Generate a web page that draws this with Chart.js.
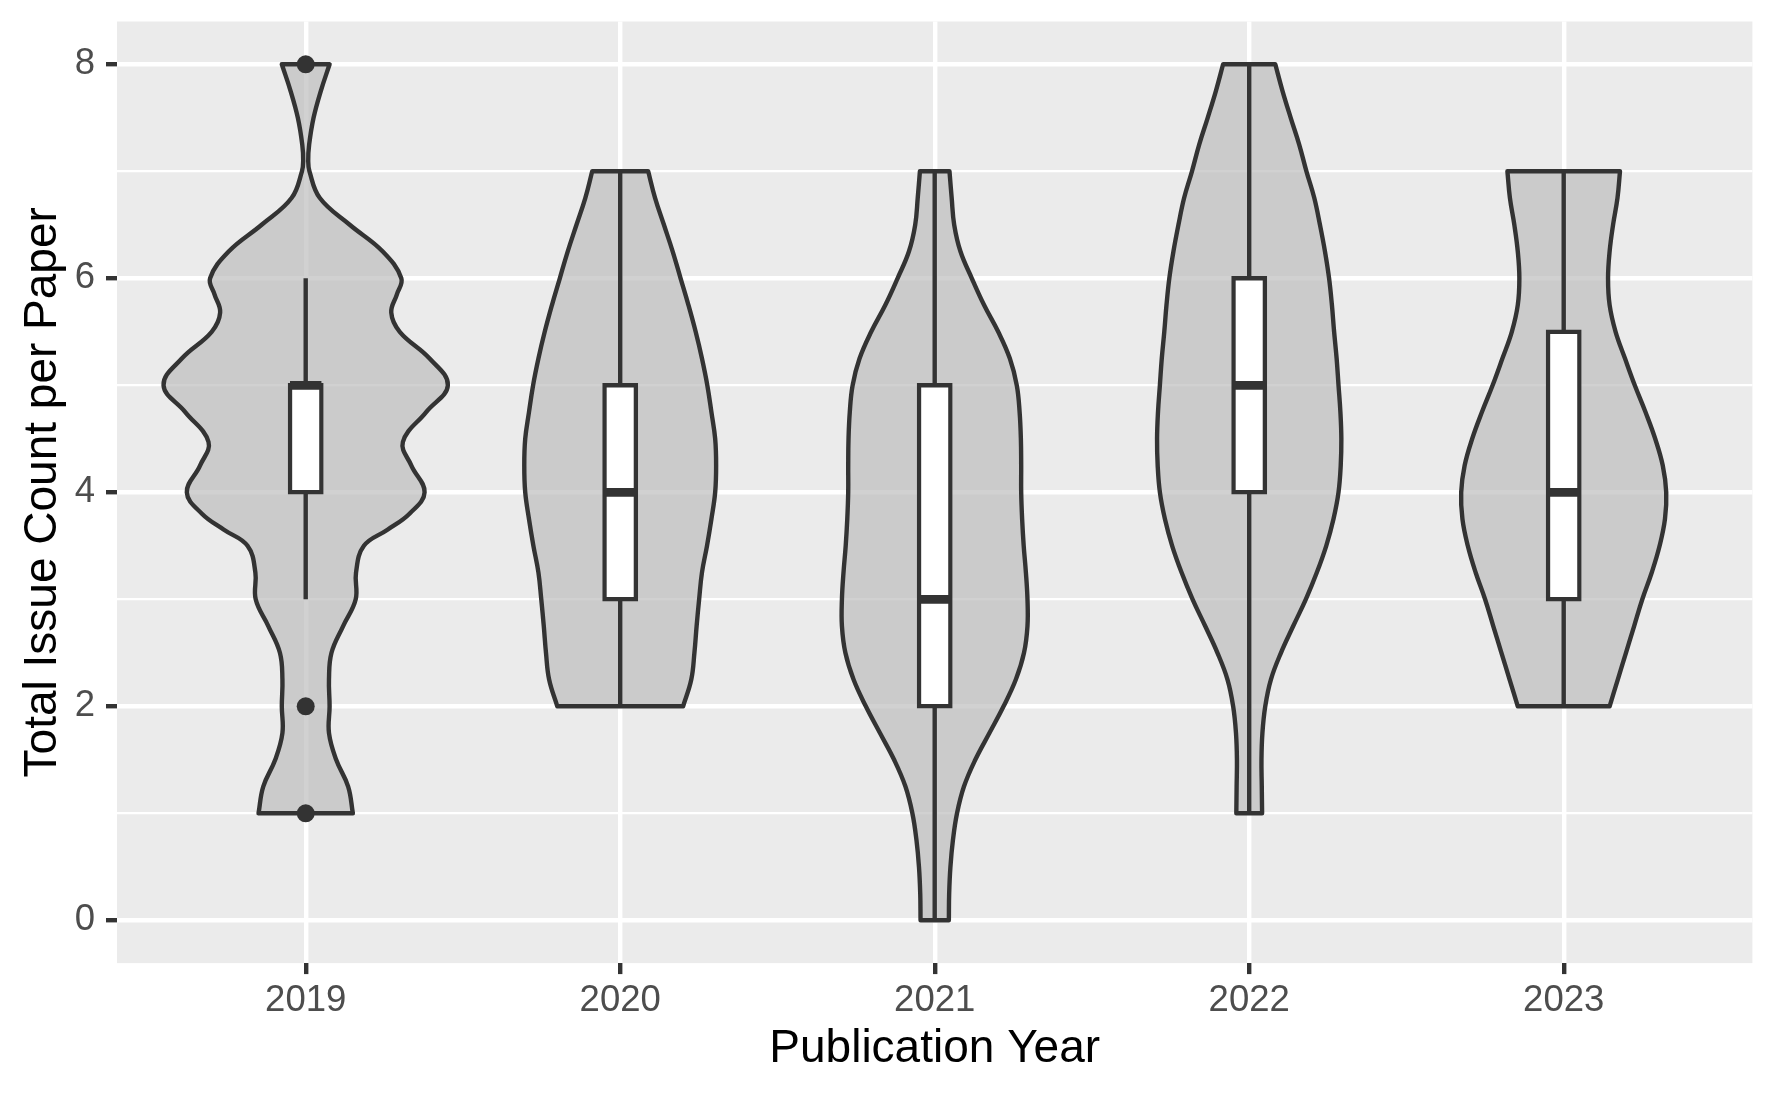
<!DOCTYPE html>
<html>
<head>
<meta charset="utf-8">
<title>Total Issue Count per Paper</title>
<script src="https://cdn.jsdelivr.net/npm/chart.js@4.4.1/dist/chart.umd.min.js"></script>
<style>
    html, body { margin: 0; padding: 0; background: #ffffff; }
    canvas { display: block; }
</style>
</head>
<body>
<canvas id="violinChart" width="1771" height="1095"></canvas>
<script>
// Categories
const years = ["2019", "2020", "2021", "2022", "2023"];

// Box plot statistics per year
const boxQ1 = [4, 3, 2, 4, 3];
const boxMedian = [5, 4, 3, 5, 4];
const boxQ3 = [5, 5, 5, 6, 5.5];
const whiskerLow = [3, 2, 0, 1, 2];
const whiskerHigh = [6, 7, 7, 8, 7];

// Outliers (year index, value)
const outlierYearIndex = [0, 0, 0];
const outlierValues = [8, 2, 1];

// Violin profiles: issue count levels and half-width of the density at each level
const levels2019 = [1, 1.25, 1.5, 1.75, 2, 2.25, 2.5, 2.75, 3, 3.25, 3.5, 3.65, 3.8, 4, 4.25, 4.47,
    4.75, 5, 5.25, 5.5, 5.68, 5.85, 6, 6.25, 6.5, 6.75, 7, 7.1, 7.25, 7.5, 7.75, 8];
const width2019 = [0.150, 0.135, 0.097, 0.074, 0.076, 0.074, 0.082, 0.119, 0.159, 0.160, 0.185, 0.26,
    0.33, 0.378, 0.336, 0.309, 0.383, 0.452, 0.394, 0.299, 0.272, 0.29, 0.304, 0.245, 0.14, 0.045,
    0.012, 0.008, 0.011, 0.025, 0.048, 0.076];

const levels2020 = [2, 2.25, 2.5, 2.75, 3, 3.25, 3.5, 3.75, 4, 4.25, 4.5, 4.75, 5, 5.25, 5.5, 5.75,
    6, 6.25, 6.5, 6.75, 7];
const width2020 = [0.200, 0.226, 0.236, 0.243, 0.251, 0.260, 0.276, 0.290, 0.302, 0.305, 0.302,
    0.290, 0.277, 0.260, 0.240, 0.217, 0.192, 0.167, 0.139, 0.111, 0.089];

const levels2021 = [0, 0.25, 0.5, 0.75, 1, 1.25, 1.5, 1.75, 2, 2.25, 2.5, 2.75, 3, 3.25, 3.5, 3.75,
    4, 4.25, 4.5, 4.75, 5, 5.25, 5.5, 5.75, 6, 6.25, 6.5, 6.75, 7];
const width2021 = [0.045, 0.046, 0.050, 0.058, 0.071, 0.093, 0.129, 0.174, 0.219, 0.258, 0.284,
    0.295, 0.295, 0.290, 0.283, 0.278, 0.275, 0.275, 0.274, 0.270, 0.261, 0.239, 0.202, 0.157,
    0.118, 0.082, 0.062, 0.054, 0.047];

const levels2022 = [1, 1.25, 1.5, 1.75, 2, 2.25, 2.5, 2.75, 3, 3.25, 3.5, 3.75, 4, 4.25, 4.5, 4.75,
    5, 5.25, 5.5, 5.75, 6, 6.25, 6.5, 6.75, 7, 7.25, 7.5, 7.75, 8];
const width2022 = [0.041, 0.040, 0.039, 0.042, 0.051, 0.069, 0.101, 0.140, 0.180, 0.215, 0.245,
    0.268, 0.284, 0.291, 0.293, 0.290, 0.284, 0.278, 0.270, 0.263, 0.254, 0.241, 0.225, 0.207,
    0.182, 0.159, 0.132, 0.106, 0.083];

const levels2023 = [2, 2.25, 2.5, 2.75, 3, 3.25, 3.5, 3.75, 4, 4.25, 4.5, 4.75, 5, 5.25, 5.5, 5.75,
    6, 6.25, 6.5, 6.75, 7];
const width2023 = [0.146, 0.172, 0.198, 0.224, 0.250, 0.280, 0.305, 0.322, 0.326, 0.315, 0.291,
    0.260, 0.226, 0.195, 0.165, 0.146, 0.141, 0.146, 0.157, 0.171, 0.179];

// Axis ticks
const yMajorTicks = [0, 2, 4, 6, 8];
const yMinorTicks = [1, 3, 5, 7];

const violinLevels = [levels2019, levels2020, levels2021, levels2022, levels2023];
const violinWidths = [width2019, width2020, width2021, width2022, width2023];

const FONT = "'Liberation Sans', Arial, Helvetica, sans-serif";
const OUTLINE = "#333333";
const LINE = 4.4;
const BOX_HALF = 0.05;

// Closed outline: up the right side, across the top, down the left side.
// Corner points are doubled so the spline keeps the flat ends straight.
function violinOutline(index, levels, widths) {
    const right = levels.map((y, k) => ({ x: index + widths[k], y: y }));
    const left = levels.map((y, k) => ({ x: index - widths[k], y: y })).reverse();
    return [...right, right[right.length - 1], left[0], ...left, left[left.length - 1], right[0]];
}

const violinDatasets = violinLevels.map((levels, i) => ({
    type: "line",
    label: years[i],
    data: violinOutline(i, levels, violinWidths[i]),
    borderColor: OUTLINE,
    borderWidth: LINE,
    backgroundColor: "rgba(190, 190, 190, 0.7)",
    fill: "shape",
    tension: 0.4,
    pointRadius: 0,
    borderJoinStyle: "round",
    borderCapStyle: "round",
    order: 5,
}));

const whiskerData = [];
const medianData = [];
years.forEach((year, i) => {
    whiskerData.push({ x: i, y: boxQ3[i] }, { x: i, y: whiskerHigh[i] }, { x: i, y: null });
    whiskerData.push({ x: i, y: boxQ1[i] }, { x: i, y: whiskerLow[i] }, { x: i, y: null });
    medianData.push({ x: i - BOX_HALF, y: boxMedian[i] }, { x: i + BOX_HALF, y: boxMedian[i] }, { x: i, y: null });
});

const panelBackground = {
    id: "panelBackground",
    beforeDraw(chart) {
        const { ctx, chartArea } = chart;
        ctx.save();
        ctx.fillStyle = "#EBEBEB";
        ctx.fillRect(chartArea.left, chartArea.top, chartArea.width, chartArea.height);
        ctx.restore();
    },
};

new Chart(document.getElementById("violinChart"), {
    type: "line",
    data: {
        datasets: [
            ...violinDatasets,
            {
                type: "line",
                label: "whiskers",
                data: whiskerData,
                borderColor: OUTLINE,
                borderWidth: LINE,
                pointRadius: 0,
                spanGaps: false,
                fill: false,
                order: 4,
            },
            {
                type: "bar",
                label: "boxes",
                data: years.map((year, i) => ({ x: i, y: [boxQ1[i], boxQ3[i]] })),
                backgroundColor: "#FFFFFF",
                borderColor: OUTLINE,
                borderWidth: LINE,
                borderSkipped: false,
                inflateAmount: LINE / 2,
                categoryPercentage: BOX_HALF * 2,
                barPercentage: 1,
                order: 3,
            },
            {
                type: "line",
                label: "medians",
                data: medianData,
                borderColor: OUTLINE,
                borderWidth: LINE * 2,
                pointRadius: 0,
                spanGaps: false,
                fill: false,
                order: 2,
            },
            {
                type: "line",
                label: "outliers",
                data: outlierValues.map((v, k) => ({ x: outlierYearIndex[k], y: v })),
                showLine: false,
                pointRadius: 9,
                pointBackgroundColor: OUTLINE,
                pointBorderWidth: 0,
                order: 1,
            },
        ],
    },
    options: {
        responsive: false,
        animation: false,
        devicePixelRatio: 1,
        layout: { padding: { left: 0, top: 21.5, right: 18.6, bottom: 0 } },
        plugins: {
            legend: { display: false },
            tooltip: { enabled: false },
        },
        scales: {
            x: {
                type: "linear",
                min: -0.6,
                max: 4.6,
                offset: false,
                afterBuildTicks: (scale) => {
                    scale.ticks = years.map((year, i) => ({ value: i }));
                },
                afterFit: (scale) => {
                    scale.height = 131.9;
                    scale.paddingLeft = 0;
                    scale.paddingRight = 0;
                },
                border: { display: false },
                grid: {
                    offset: false,
                    color: "#FFFFFF",
                    lineWidth: LINE,
                    tickColor: OUTLINE,
                    tickWidth: LINE,
                    tickLength: 11,
                },
                ticks: {
                    autoSkip: false,
                    maxRotation: 0,
                    padding: 5.3,
                    color: "#4D4D4D",
                    font: { family: FONT, size: 36.5 },
                    callback: (value) => years[value],
                },
                title: {
                    display: true,
                    text: "Publication Year",
                    color: "#000000",
                    font: { family: FONT, size: 46, lineHeight: 1 },
                    padding: { top: 0, bottom: 22.6 },
                },
            },
            y: {
                type: "linear",
                min: -0.4,
                max: 8.4,
                afterBuildTicks: (scale) => {
                    scale.ticks = [...yMajorTicks, ...yMinorTicks].sort((a, b) => a - b).map((v) => ({ value: v }));
                },
                afterFit: (scale) => {
                    scale.width = 117;
                    scale.paddingTop = 0;
                    scale.paddingBottom = 0;
                },
                border: { display: false },
                grid: {
                    color: "#FFFFFF",
                    lineWidth: (ctx) => (yMajorTicks.includes(ctx.tick.value) ? LINE : LINE / 2),
                    tickColor: (ctx) => (yMajorTicks.includes(ctx.tick.value) ? OUTLINE : "rgba(0,0,0,0)"),
                    tickWidth: LINE,
                    tickLength: 11,
                },
                ticks: {
                    autoSkip: false,
                    padding: 11,
                    color: "#4D4D4D",
                    font: { family: FONT, size: 36.5 },
                    callback: (value) => (yMajorTicks.includes(value) ? String(value) : ""),
                },
                title: {
                    display: true,
                    text: "Total Issue Count per Paper",
                    color: "#000000",
                    font: { family: FONT, size: 46, lineHeight: 1 },
                    padding: { top: 20.3, bottom: 0 },
                },
            },
        },
    },
    plugins: [panelBackground],
});
</script>
</body>
</html>
